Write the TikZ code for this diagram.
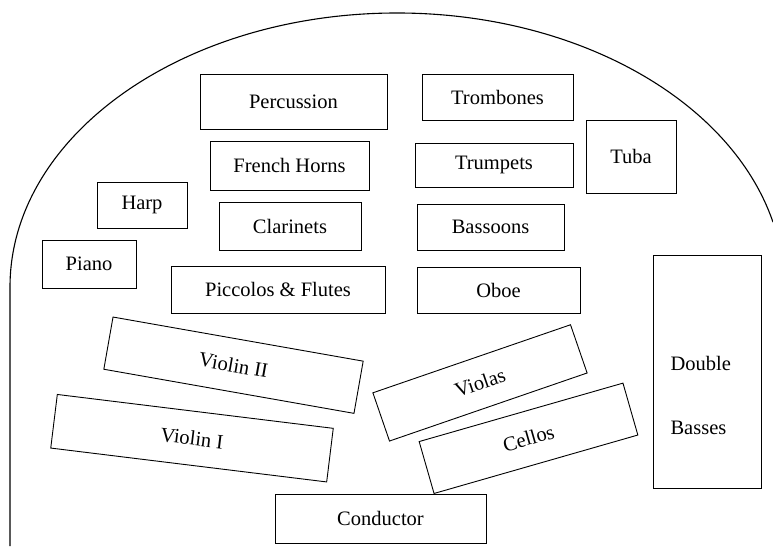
\documentclass[tikz,border=0pt]{standalone}
\usepackage{fontspec}
\setmainfont{Liberation Serif}
\usepackage{tikz}
\usetikzlibrary{positioning}

\begin{document}
\begin{tikzpicture}[x=1pt,y=1pt,font=\fontsize{20.5}{24}\selectfont,
  sect/.style={draw,line width=0.9pt,inner sep=0pt},
  stage/.style={line width=1.1pt}]
\useasboundingbox (0,0) rectangle (773,546);
\draw[stage] (10,0) -- (10,259) arc[start angle=180,end angle=13.7,x radius=387,y radius=274];
\node[sect,minimum width=187pt,minimum height=55pt] (perc) at (293.5,444.5) {Percussion};
\node[sect,minimum width=151pt,minimum height=46pt] (tbn) at (497.5,449) {Trombones};
\node[sect,minimum width=159pt,minimum height=49pt] (hrn) at (289.5,380.5) {French Horns};
\node[sect,minimum width=158pt,minimum height=44pt] (tpt) at (494,381) {Trumpets};
\node[sect,minimum width=90pt,minimum height=73pt] (tuba) at (631,389.5) {Tuba};
\node[sect,minimum width=90pt,minimum height=46pt] (harp) at (142,341) {Harp};
\node[sect,minimum width=142pt,minimum height=48pt] (cl) at (290,320) {Clarinets};
\node[sect,minimum width=147pt,minimum height=46pt] (bsn) at (490.5,319) {Bassoons};
\node[sect,minimum width=94pt,minimum height=48pt] (pno) at (89,282) {Piano\hspace{12pt}};
\node[sect,minimum width=214pt,minimum height=47pt] (fl) at (278,256.5) {Piccolos \& Flutes};
\node[sect,minimum width=163pt,minimum height=46pt] (ob) at (498.5,256) {Oboe};
\node[sect,minimum width=108pt,minimum height=233pt] (cb) at (707,174.5) {};
\node[anchor=west] (cbtop) at (667,183) {Double};
\node[anchor=west] (cbbot) at (667,118) {Basses};
\node[sect,minimum width=254pt,minimum height=53pt,rotate=-10] (vn2) at (233.5,180.8) {Violin II};
\node[sect,minimum width=278pt,minimum height=54pt,rotate=-7] (vn1) at (192,107.8) {Violin I};
\node[sect,minimum width=209pt,minimum height=51pt,rotate=19] (vla) at (480,163.1) {Violas};
\node[sect,minimum width=212pt,minimum height=54pt,rotate=16] (vc) at (528.5,107.7) {Cellos};
\node[sect,minimum width=211pt,minimum height=49pt] (cond) at (380.5,27.5) {Conductor};
\end{tikzpicture}
\end{document}
